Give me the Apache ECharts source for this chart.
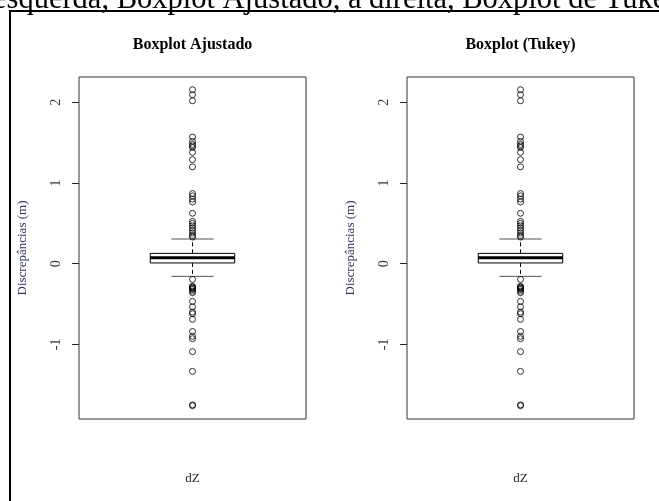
<!DOCTYPE html>
<html><head><meta charset="utf-8">
<script src="https://cdn.jsdelivr.net/npm/echarts@6/dist/echarts.min.js"></script>
<style>html,body{margin:0;padding:0;background:#fff}#c{width:659px;height:501px}</style>
</head><body><div id="c"></div>
<script>
const categories = ['dZ'];
const panelTitles = ['Boxplot Ajustado', 'Boxplot (Tukey)'];
const yTicks = [-1, 0, 1, 2];
const headerText = 'esquerda, Boxplot Ajustado, à direita, Boxplot de Tukey';
// [lower whisker, Q1, median, Q3, upper whisker]
const adjustedStats = [-0.157, 0.009, 0.074, 0.128, 0.306];
const tukeyStats = [-0.157, 0.009, 0.074, 0.128, 0.306];
const upperOutliers = [2.156, 2.094, 2.02, 1.57, 1.515, 1.48, 1.46, 1.44, 1.38, 1.29, 1.20,
  0.87, 0.84, 0.80, 0.765, 0.625, 0.525, 0.50, 0.47, 0.44, 0.41, 0.38, 0.35, 0.33];
const lowerOutliers = [-0.195, -0.28, -0.29, -0.30, -0.31, -0.32, -0.34, -0.36, -0.467, -0.535,
  -0.60, -0.62, -0.69, -0.84, -0.90, -0.93, -1.09, -1.335, -1.75, -1.76];

const SERIF = '"Liberation Serif","Times New Roman",serif';
const statsList = [adjustedStats, tukeyStats];
const gridLefts = [79, 407];

function renderBox(params, api) {
  const x = api.value(0);
  const lo = api.coord([x, api.value(1)]);
  const q1 = api.coord([x, api.value(2)]);
  const med = api.coord([x, api.value(3)]);
  const q3 = api.coord([x, api.value(4)]);
  const hi = api.coord([x, api.value(5)]);
  const band = api.size([1, 0])[0];
  const bw = band * 0.372, cw = bw / 2;
  const cx = lo[0];
  const dash = {stroke: '#000', lineWidth: 1, lineDash: [4, 3]};
  const cap = {stroke: '#555', lineWidth: 1};
  return {type: 'group', children: [
    {type: 'line', shape: {x1: cx, y1: q3[1], x2: cx, y2: hi[1]}, style: dash},
    {type: 'line', shape: {x1: cx, y1: q1[1], x2: cx, y2: lo[1]}, style: dash},
    {type: 'line', shape: {x1: cx - cw / 2, y1: hi[1], x2: cx + cw / 2, y2: hi[1]}, style: cap},
    {type: 'line', shape: {x1: cx - cw / 2, y1: lo[1], x2: cx + cw / 2, y2: lo[1]}, style: cap},
    {type: 'rect', shape: {x: cx - bw / 2, y: q3[1], width: bw, height: q1[1] - q3[1]},
      style: {fill: '#fff', stroke: '#000', lineWidth: 1}},
    {type: 'line', shape: {x1: cx - bw / 2, y1: med[1], x2: cx + bw / 2, y2: med[1]},
      style: {stroke: '#000', lineWidth: 3}}
  ]};
}

const grids = [], xAxes = [], yAxes = [], series = [], graphics = [];
statsList.forEach((stats, i) => {
  grids.push({left: gridLefts[i], top: 77, width: 227, height: 342, show: true,
    borderColor: '#333', borderWidth: 1, backgroundColor: 'transparent'});
  xAxes.push({type: 'category', gridIndex: i, data: categories,
    axisLine: {show: false}, axisTick: {show: false}, axisLabel: {show: false},
    name: categories[0], nameLocation: 'middle', nameGap: 53,
    nameTextStyle: {fontFamily: SERIF, fontSize: 13, color: '#222'}});
  yAxes.push({type: 'value', gridIndex: i, min: -1.925, max: 2.314,
    splitLine: {show: false}, axisLine: {show: false},
    axisTick: {show: true, length: 7, customValues: yTicks, lineStyle: {color: '#222'}},
    axisLabel: {rotate: 90, customValues: yTicks, margin: 16, fontFamily: SERIF, fontSize: 14, color: '#333'},
    name: 'Discrepâncias (m)', nameLocation: 'middle', nameRotate: 90, nameGap: 50,
    nameTextStyle: {fontFamily: SERIF, fontSize: 13, color: '#2e3560'}});
  series.push({type: 'custom', xAxisIndex: i, yAxisIndex: i, renderItem: renderBox,
    data: [[0].concat(stats)], encode: {x: 0, y: [1, 2, 3, 4, 5]}, z: 2});
  series.push({type: 'scatter', xAxisIndex: i, yAxisIndex: i, symbol: 'circle', symbolSize: 6,
    itemStyle: {color: 'rgba(0,0,0,0)', borderColor: '#000', borderWidth: 1},
    data: upperOutliers.concat(lowerOutliers).map(v => [0, v]), z: 3});
  graphics.push({type: 'text', x: gridLefts[i] + 113.5, y: 45,
    style: {text: panelTitles[i], font: 'bold 16px ' + SERIF, fill: '#000',
      textAlign: 'center', textVerticalAlign: 'middle'}});
});
graphics.push({type: 'rect', shape: {x: 10, y: 11, width: 800, height: 700},
  style: {fill: 'none', stroke: '#000', lineWidth: 2}});
graphics.push({type: 'text', x: -7, y: -16,
  style: {text: headerText, font: '30.5px ' + SERIF, fill: '#000', textVerticalAlign: 'top'}});

const chart = echarts.init(document.getElementById('c'), null, {renderer: 'canvas'});
chart.setOption({animation: false, backgroundColor: '#fff', grid: grids, xAxis: xAxes, yAxis: yAxes,
  series: series, graphic: graphics});
</script></body></html>
